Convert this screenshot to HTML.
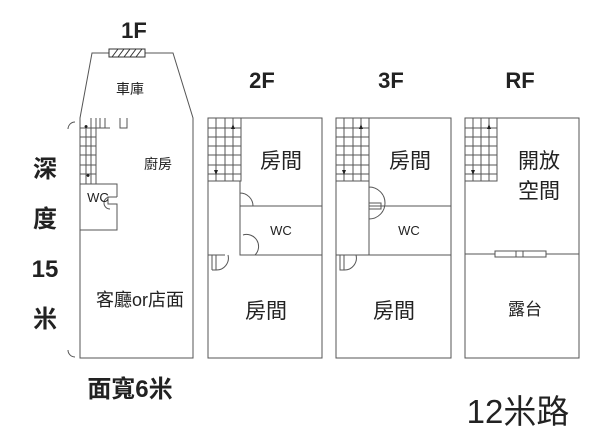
<!DOCTYPE html>
<html><head><meta charset="utf-8"><style>
body{margin:0;background:#fff}
svg{display:block}
text{font-family:"Liberation Sans","Noto Sans CJK TC",sans-serif;fill:#222}
</style></head><body>
<svg width="600" height="440" viewBox="0 0 600 440" xmlns="http://www.w3.org/2000/svg">
<g fill="none" stroke="#555" stroke-width="1">
<!-- 1F -->
<path d="M80,118 L92,53 L173,53 L193,118 L193,358 L80,358 Z"/>
<rect x="109" y="49" width="36" height="8" fill="#fff" stroke="#333"/>
<path d="M112,57 l6,-8 M118,57 l6,-8 M124,57 l6,-8 M130,57 l6,-8 M136,57 l6,-8" stroke="#333"/>
<path d="M80,128 L110,128 M96,118 V184 M80,184 H96 M86,128 V184 M91,118 V184 M80,137 H96 M80,146 H96 M80,155 H96 M80,165 H96 M80,174 H96 M100,118 V128 M105,118 V128"/>
<path d="M80,184 H117 V197 M117,197 H108 V204 H117 V230 H80"/>
<path d="M110,197 a6,6 0 0,0 0,12"/>
<path d="M120,118 V128 H127 V118"/>
<path d="M75,122 a7,7 0 0,0 -7,7 M68,350 a7,7 0 0,0 7,7"/>
<!-- 2F -->
<rect x="208" y="118" width="114" height="240"/>
<path d="M208,181 H241 V118 M225,118 V181 M216,118 V181 M233,118 V181 M208,128 H241 M208,137 H241 M208,146 H241 M208,155 H241 M208,165 H241 M208,174 H241"/>
<path d="M240,181 V206 H322 M240,206 V255 H322 M208,255 H225 M253,206 a13,13 0 0,0 -13,-13 M240,233 V255 M243,235 a12,12 0 0,1 12,20 M212,255 V270 M216,255 V270 H212 M216,270 a12,12 0 0,0 12,-15"/>
<!-- 3F -->
<rect x="336" y="118" width="115" height="240"/>
<path d="M336,181 H369 V118 M353,118 V181 M344,118 V181 M361,118 V181 M336,128 H369 M336,137 H369 M336,146 H369 M336,155 H369 M336,165 H369 M336,174 H369"/>
<path d="M369,181 V255 M369,206 H451 M336,255 H451 M369,203 H381 V209 H369 M369,187 a12,12 0 0,1 0,32 M340,255 V270 H344 V255 M344,270 a12,12 0 0,0 12,-15"/>
<!-- RF -->
<rect x="465" y="118" width="114" height="240"/>
<path d="M465,181 H497 V118 M481,118 V181 M473,118 V181 M489,118 V181 M465,128 H497 M465,137 H497 M465,146 H497 M465,155 H497 M465,165 H497 M465,174 H497"/>
<path d="M465,254 H579"/>
<rect x="495" y="251" width="51" height="6" fill="#fff"/>
<path d="M516,251 V257 M523,251 V257"/>
</g>
<g fill="#222">
<path d="M233,124 l-2,5 h4 z M216,175 l-2,-5 h4 z M361,124 l-2,5 h4 z M344,175 l-2,-5 h4 z M489,124 l-2,5 h4 z M473,175 l-2,-5 h4 z M86,125 a1.5,1.5 0 1,0 0.1,0 M88,174 a1.5,1.5 0 1,0 0.1,0"/>
</g>
<text x="134" y="38" font-size="22" text-anchor="middle" font-weight="bold">1F</text>
<text x="262" y="88" font-size="22" text-anchor="middle" font-weight="bold">2F</text>
<text x="391" y="88" font-size="22" text-anchor="middle" font-weight="bold">3F</text>
<text x="520" y="88" font-size="22" text-anchor="middle" font-weight="bold">RF</text>
<text x="130" y="94" font-size="14" text-anchor="middle">車庫</text>
<text x="158" y="169" font-size="14" text-anchor="middle">廚房</text>
<text x="98" y="202" font-size="13" text-anchor="middle">WC</text>
<text x="140" y="306" font-size="18" text-anchor="middle">客廳or店面</text>
<g font-size="24" text-anchor="middle" font-weight="bold">
<text x="45" y="177">深</text><text x="45" y="227">度</text>
<text x="45" y="277">15</text><text x="45" y="327">米</text>
</g>
<text x="130" y="397" font-size="24" text-anchor="middle" font-weight="bold">面寬6米</text>
<text x="281" y="168" font-size="21" text-anchor="middle">房間</text>
<text x="281" y="235" font-size="13" text-anchor="middle">WC</text>
<text x="266" y="318" font-size="21" text-anchor="middle">房間</text>
<text x="410" y="168" font-size="21" text-anchor="middle">房間</text>
<text x="409" y="235" font-size="13" text-anchor="middle">WC</text>
<text x="394" y="318" font-size="21" text-anchor="middle">房間</text>
<text x="539" y="168" font-size="21" text-anchor="middle">開放</text>
<text x="539" y="198" font-size="21" text-anchor="middle">空間</text>
<text x="525" y="315" font-size="17" text-anchor="middle">露台</text>
<text x="518" y="423" font-size="33" text-anchor="middle">12米路</text>
</svg>
</body></html>
